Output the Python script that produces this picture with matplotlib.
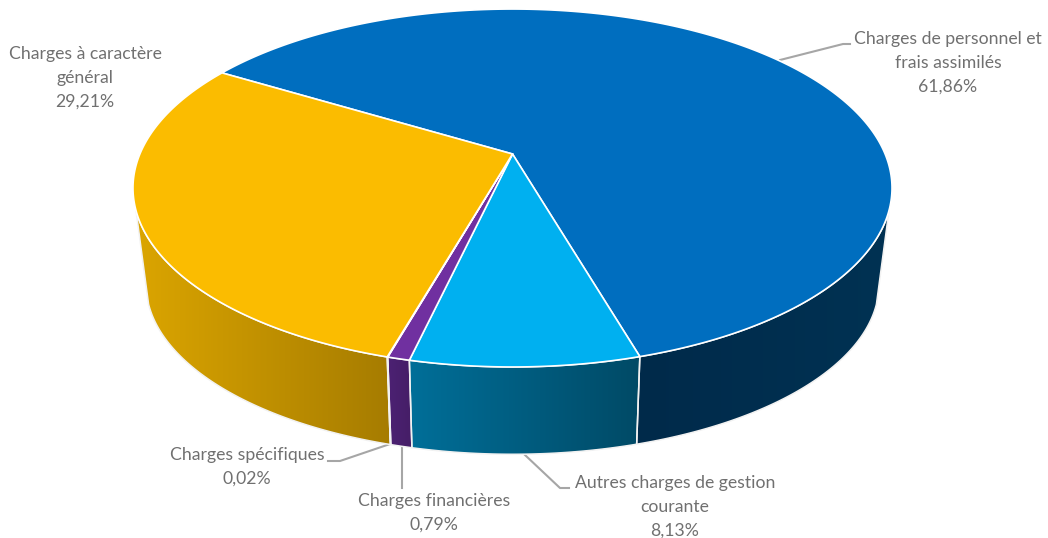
import numpy as np
import matplotlib
matplotlib.use('Agg')
import matplotlib.pyplot as plt
from matplotlib.patches import Polygon
from matplotlib.colors import LinearSegmentedColormap

# slices, clockwise from the top left
labels = ['Charges de personnel et\nfrais assimilés', 'Autres charges de gestion\ncourante',
          'Charges financières', 'Charges spécifiques', 'Charges à caractère\ngénéral']
values = [61.86, 8.13, 0.79, 0.02, 29.21]
value_labels = ['61,86%', '8,13%', '0,79%', '0,02%', '29,21%']
top_colors = ['#006EBF', '#00B0F0', '#7030A0', '#7030A0', '#FBBC00']
wall_left = ['#002A4A', '#006F99', '#4C2173', '#4C2173', '#DBA500']
wall_right = ['#003253', '#004A66', '#451E66', '#451E66', '#A67C00']

# label centre x, first line y, then leader line
label_pos = [(948, 39), (675, 483), (434, 501), (247, 455), (85, 54)]
leaders = [[(780, 60), (843, 44), (850, 44)],
           [(525, 455), (560, 488), (569, 488)],
           [(402, 446), (402, 488)],
           [(390, 444), (340, 461), (328, 461)],
           None]

start_deg = 148.9
wall_from, wall_to = -162.0, -18.0
text_color = '#707070'
leader_color = '#A6A6A6'


# perspective of the disc, unit circle to pixels
def top_rim(t):
    c, s = np.cos(np.radians(t)), np.sin(np.radians(t))
    return np.c_[512.5 + 372.6 * c / (1 + 0.19 * s), 154 - 172.5 * s / (1 + 0.19 * s)]


def low_rim(t):
    c, s = np.cos(np.radians(t)), np.sin(np.radians(t))
    return np.c_[512.5 + 359 * c / (1 + 0.2 * s), 250.5 - 163 * s / (1 + 0.2 * s)]


fig = plt.figure(figsize=(10.48, 5.38), dpi=100)
ax = fig.add_axes([0, 0, 1, 1])
ax.axis('off')

spans = []
a = start_deg
for v in values:
    b = a - v * 360 / sum(values)
    spans.append((a, b))
    a = b

# side walls first
for i in range(len(values)):
    a, b = spans[i]
    for shift in (0, 360):
        hi, lo = min(a + shift, wall_to), max(b + shift, wall_from)
        if hi <= lo:
            continue
        t = np.linspace(hi, lo, 200)
        pts = np.vstack([top_rim(t), low_rim(t)[::-1]])
        poly = Polygon(pts, closed=True, facecolor='none', edgecolor='none', zorder=2)
        ax.add_patch(poly)
        cmap = LinearSegmentedColormap.from_list('w', [wall_left[i], wall_right[i]])
        im = ax.imshow(np.linspace(0, 1, 256)[None, :], cmap=cmap, aspect='auto', zorder=2,
                       extent=[pts[:, 0].min(), pts[:, 0].max(), pts[:, 1].max(), pts[:, 1].min()])
        im.set_clip_path(poly)
        ax.add_patch(Polygon(pts, closed=True, facecolor='none', edgecolor='#F2F2F2', lw=1.1, zorder=3))

# top face
for i in range(len(values)):
    a, b = spans[i]
    t = np.linspace(a, b, 300)
    pts = np.vstack([[[512.5, 154]], top_rim(t)])
    ax.add_patch(Polygon(pts, closed=True, facecolor=top_colors[i], edgecolor='white', lw=1.2, zorder=4))

for i in range(len(labels)):
    lines = labels[i].split('\n') + [value_labels[i]]
    x, y = label_pos[i]
    for j, line in enumerate(lines):
        ax.text(x, y + j * 23.6, line, ha='center', va='center', color=text_color,
                family='Lato', fontsize=12.7)
    if leaders[i]:
        xs, ys = zip(*leaders[i])
        ax.plot(xs, ys, color=leader_color, lw=1.5, zorder=1)

ax.set_xlim(0, 1048)
ax.set_ylim(538, 0)
fig.savefig('out.png', dpi=100)
